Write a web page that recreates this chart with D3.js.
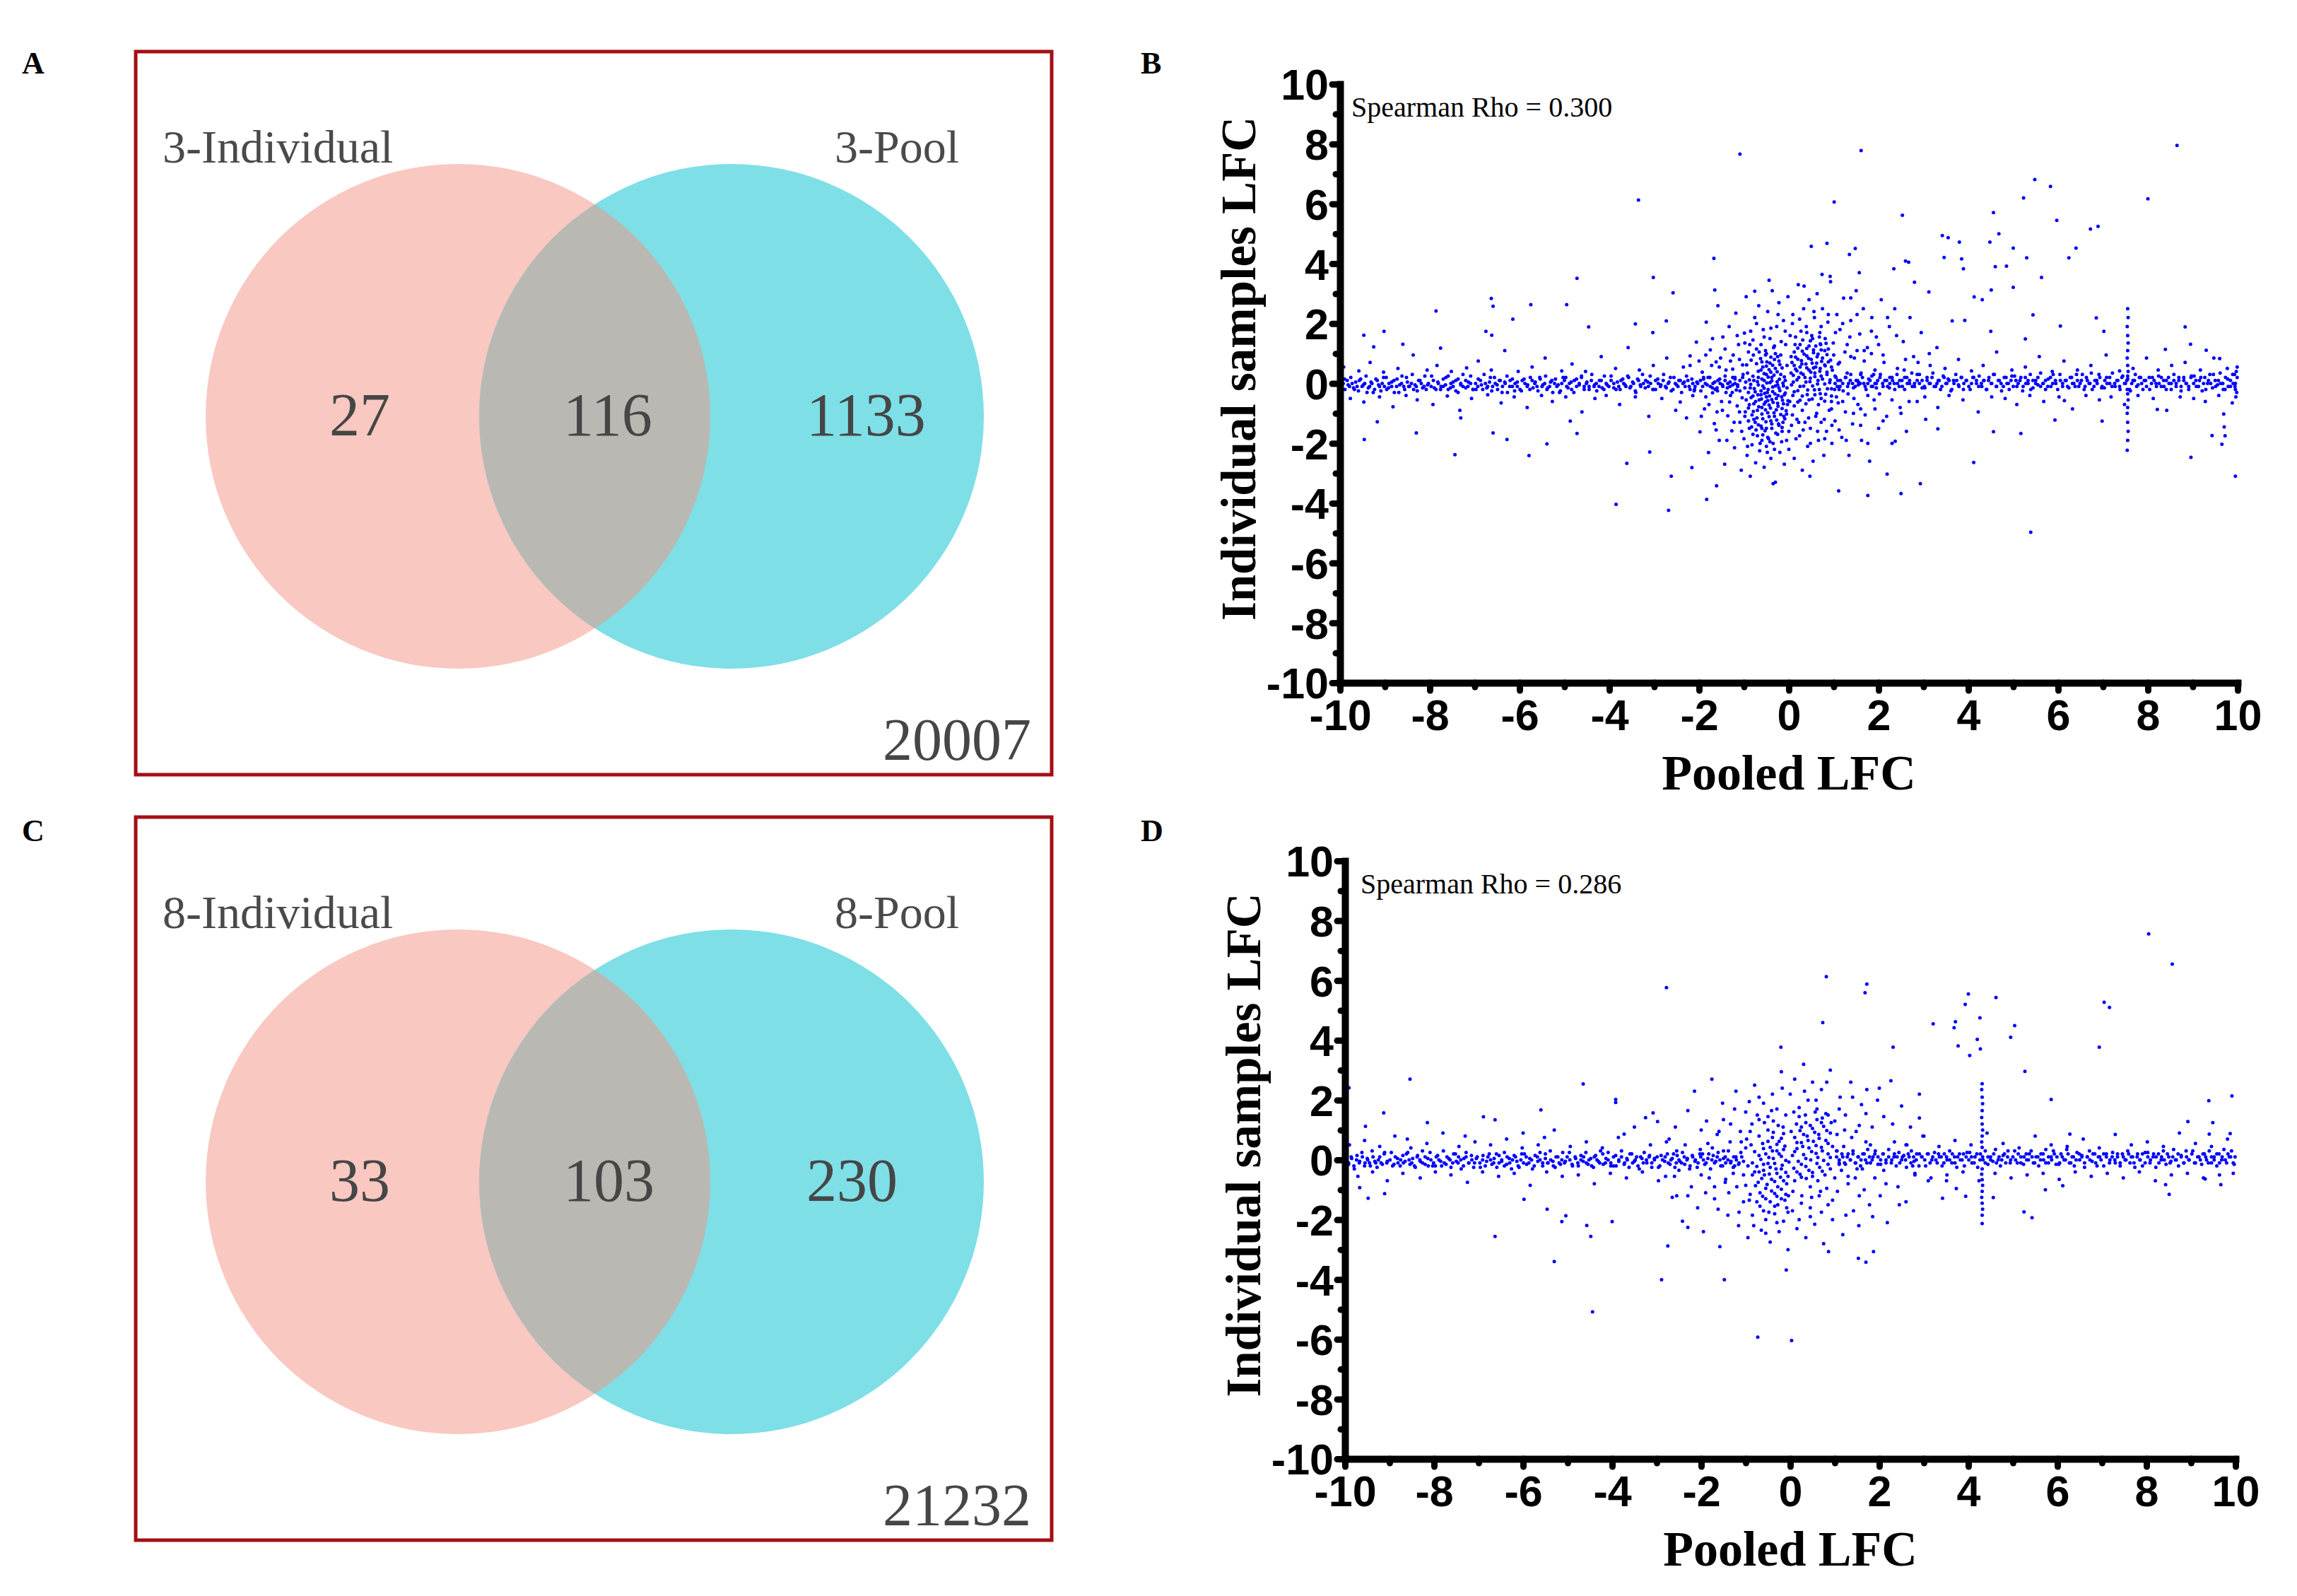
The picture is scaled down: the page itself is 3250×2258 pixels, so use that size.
<!DOCTYPE html>
<html>
<head>
<meta charset="utf-8">
<script src="https://cdn.jsdelivr.net/npm/d3@7"></script>
<style>
body { margin: 0; background: #fff; }
</style>
</head>
<body>
<svg id="fig" width="3250" height="2258"></svg>
<script>
// ---- venn panels (A, C)
let vennNamesA = ['3-Individual', '3-Pool'];
let vennCountsA = [27, 116, 1133];
let vennTotalA = 20007;
let vennNamesC = ['8-Individual', '8-Pool'];
let vennCountsC = [33, 103, 230];
let vennTotalC = 21232;

// ---- scatter panels (B, D): flat lists of (pooled LFC, individual LFC)
let rhoB = '0.300';
let rhoD = '0.286';
let majorTicks = [-10, -8, -6, -4, -2, 0, 2, 4, 6, 8, 10];
let minorTicks = [-9, -7, -5, -3, -1, 1, 3, 5, 7, 9];

let bandB = [-9.98,-.1,-9.93,0,-9.89,-.2,-9.84,.1,-9.79,-.1,-9.73,0,-9.68,-.2,-9.62,-.1,-9.57,.1,-9.51,-.1,-9.45,0,-9.4,-.3,-9.34,-.1,-9.29,0,-9.23,-.2,-9.17,.1,-9.12,-.1,-9.06,0,-9.01,-.1,
-8.96,-.2,-8.91,0,-8.85,-.1,-8.8,.1,-8.74,-.1,-8.69,-.3,-8.63,0,-8.58,-.1,-8.52,.2,-8.47,-.1,-8.41,0,-8.36,-.2,-8.3,-.1,-8.25,.1,-8.19,0,-8.13,-.1,-8.08,-.2,-8.03,0,
-7.97,-.1,-7.92,.1,-7.86,-.2,-7.81,0,-7.75,-.1,-7.7,-.1,-7.64,.2,-7.59,-.2,-7.53,0,-7.48,-.1,-7.42,.1,-7.37,-.3,-7.31,0,-7.26,-.1,-7.2,.1,-7.15,-.1,-7.09,0,-7.04,-.2,
-6.98,0,-6.93,-.1,-6.87,.1,-6.82,-.2,-6.76,0,-6.71,-.1,-6.65,.2,-6.6,-.1,-6.54,0,-6.49,-.2,-6.43,.1,-6.38,-.1,-6.32,0,-6.27,-.3,-6.21,.1,-6.16,-.1,-6.1,0,-6.05,-.1,
-5.99,-.2,-5.94,.1,-5.88,0,-5.83,-.1,-5.77,-.2,-5.72,.1,-5.66,0,-5.61,-.1,-5.55,.2,-5.5,-.1,-5.44,0,-5.39,-.2,-5.33,-.1,-5.28,.1,-5.22,0,-5.17,-.1,-5.11,-.3,-5.06,0,
-5.0,.1,-4.95,-.1,-4.89,0,-4.84,-.2,-4.78,.1,-4.73,-.1,-4.67,0,-4.62,.2,-4.56,-.1,-4.51,0,-4.45,-.2,-4.4,.1,-4.34,-.1,-4.29,0,-4.23,-.1,-4.18,.1,-4.12,-.2,-4.07,0,
-4.01,-.1,-3.96,.1,-3.9,0,-3.85,-.2,-3.79,-.1,-3.74,.1,-3.68,0,-3.63,-.1,-3.57,.2,-3.52,-.1,-3.46,0,-3.41,-.3,-3.35,.1,-3.3,-.1,-3.24,0,-3.19,.1,-3.13,-.1,-3.08,0,
-3.02,-.2,-2.97,.1,-2.91,0,-2.86,-.1,-2.8,.1,-2.75,-.1,-2.69,0,-2.64,.2,-2.58,-.2,-2.53,0,-2.47,-.1,-2.42,.1,-2.36,0,-2.31,-.1,-2.25,.1,-2.2,-.2,-2.14,0,-2.09,-.1,
-2.03,0,-1.97,.1,-1.92,-.1,-1.86,0,-1.8,.2,-1.75,-.1,-1.69,0,-1.64,-.2,-1.58,.1,-1.53,0,-1.47,-.1,-1.42,.1,-1.36,0,-1.31,-.1,-1.25,.2,-1.2,0,-1.14,-.1,-1.09,.1,
1.03,0,1.09,.1,1.14,-.1,1.2,0,1.26,.2,1.31,-.1,1.37,.1,1.42,0,1.48,-.1,1.53,.1,1.59,0,1.64,.2,1.7,-.1,1.76,0,1.81,.1,1.87,-.1,1.92,0,1.98,.1,
2.03,.2,2.09,0,2.14,.1,2.2,-.1,2.25,0,2.31,.1,2.36,-.2,2.42,0,2.47,.1,2.53,-.1,2.58,.2,2.64,0,2.69,.1,2.75,-.1,2.8,0,2.86,.3,2.91,0,2.97,.1,
3.02,-.1,3.08,.1,3.13,0,3.19,.2,3.24,-.1,3.3,0,3.35,.1,3.41,-.1,3.46,.2,3.52,0,3.57,.1,3.63,-.2,3.68,0,3.74,.1,3.79,-.1,3.85,.2,3.9,0,3.96,.1,
4.01,-.1,4.07,0,4.12,.2,4.18,.1,4.23,-.1,4.29,0,4.34,.1,4.4,-.2,4.45,.1,4.51,0,4.56,.3,4.62,-.1,4.67,.1,4.73,0,4.78,-.1,4.84,.2,4.89,0,4.95,.1,
5.0,-.1,5.06,.1,5.11,0,5.17,.2,5.22,-.1,5.28,0,5.33,.1,5.39,-.2,5.44,.1,5.5,0,5.55,.2,5.61,-.1,5.66,0,5.72,.1,5.77,-.1,5.83,.2,5.88,0,5.94,.1,
5.99,-.2,6.05,.1,6.1,0,6.16,.1,6.21,-.1,6.27,.2,6.32,0,6.38,-.1,6.43,.1,6.49,0,6.54,.3,6.6,-.1,6.65,.1,6.71,0,6.76,-.2,6.82,.1,6.87,0,6.93,.2,
6.98,-.1,7.04,.1,7.09,0,7.15,.2,7.2,-.1,7.26,0,7.31,.1,7.37,-.1,7.42,.2,7.48,0,7.53,.1,7.59,-.2,7.64,0,7.7,.1,7.75,-.1,7.81,.2,7.86,0,7.92,.1,
7.97,-.1,8.03,.2,8.08,0,8.14,.1,8.19,-.1,8.25,0,8.3,.2,8.36,-.1,8.41,.1,8.47,0,8.52,-.2,8.58,.1,8.63,0,8.69,.2,8.74,-.1,8.8,.1,8.85,0,8.91,-.1,
8.96,.2,9.02,0,9.07,.1,9.13,-.1,9.18,.2,9.24,0,9.29,-.2,9.35,.1,9.4,0,9.46,.3,9.51,-.1,9.57,.1,9.62,0,9.68,-.2,9.73,.2,9.79,-.1,9.84,.1,9.9,0,9.95,-.2,9.99,.2,
9.97,.4,9.98,-.3,9.93,.3,9.96,-.45,9.99,.55,9.94,-.1];

let band2B = [-9.96,-.25,-9.9,.15,-9.82,-.05,-9.76,.2,-9.7,-.15,-9.65,.05,-9.59,-.25,-9.54,.15,-9.48,-.05,-9.42,.25,-9.37,-.15,-9.31,.05,-9.26,-.3,-9.2,.15,-9.14,-.05,-9.09,-.25,-9.03,.2,
-8.97,.2,-8.92,-.15,-8.85,.05,-8.79,-.3,-8.73,.15,-8.67,-.05,-8.62,.25,-8.56,-.2,-8.5,.05,-8.45,-.1,-8.39,.3,-8.33,-.05,-8.28,-.25,-8.22,.1,-8.16,-.15,-8.11,.25,-8.05,-.05,
-7.96,.25,-7.9,-.15,-7.82,.05,-7.76,-.2,-7.7,.15,-7.65,-.05,-7.59,.25,-7.54,-.15,-7.48,.05,-7.42,-.25,-7.37,.15,-7.31,-.05,-7.26,.3,-7.2,-.15,-7.14,.05,-7.09,.25,-7.03,-.2,
-6.97,-.2,-6.92,.15,-6.85,-.05,-6.79,.3,-6.73,-.15,-6.67,.05,-6.62,-.25,-6.56,.2,-6.5,-.05,-6.45,.1,-6.39,-.3,-6.33,.05,-6.28,.25,-6.22,-.1,-6.16,.15,-6.11,-.25,-6.05,.05,
-5.96,-.25,-5.9,.15,-5.82,-.05,-5.76,.2,-5.7,-.15,-5.65,.05,-5.59,-.25,-5.54,.15,-5.48,-.05,-5.42,.25,-5.37,-.15,-5.31,.05,-5.26,-.3,-5.2,.15,-5.14,-.05,-5.09,-.25,-5.03,.2,
-4.97,.2,-4.92,-.15,-4.85,.05,-4.79,-.3,-4.73,.15,-4.67,-.05,-4.62,.25,-4.56,-.2,-4.5,.05,-4.45,-.1,-4.39,.3,-4.33,-.05,-4.28,-.25,-4.22,.1,-4.16,-.15,-4.11,.25,-4.05,-.05,
-3.96,.25,-3.9,-.15,-3.82,.05,-3.76,-.2,-3.7,.15,-3.65,-.05,-3.59,.25,-3.54,-.15,-3.48,.05,-3.42,-.25,-3.37,.15,-3.31,-.05,-3.26,.3,-3.2,-.15,-3.14,.05,-3.09,.25,-3.03,-.2,
-2.97,-.2,-2.92,.15,-2.85,-.05,-2.79,.3,-2.73,-.15,-2.67,.05,-2.62,-.25,-2.56,.2,-2.5,-.05,-2.45,.1,-2.39,-.3,-2.33,.05,-2.28,.25,-2.22,-.1,-2.16,.15,-2.11,-.25,-2.05,.05,
-1.96,-.25,-1.9,.15,-1.82,-.05,-1.76,.2,-1.7,-.15,-1.65,.05,-1.59,-.25,-1.54,.15,-1.48,-.05,-1.42,.25,-1.37,-.15,-1.31,.05,-1.26,-.3,-1.2,.15,-1.14,-.05,-1.09,-.25,-1.03,.2,
1.03,.25,1.08,-.1,1.15,.1,1.21,-.25,1.27,.2,1.33,0,1.38,.3,1.44,-.15,1.5,.1,1.55,-.05,1.61,.35,1.67,0,1.72,-.2,1.78,.15,1.84,-.1,1.89,.3,1.95,0,
2.04,.3,2.1,-.1,2.18,.1,2.24,-.15,2.3,.2,2.35,0,2.41,.3,2.46,-.1,2.52,.1,2.58,-.2,2.63,.2,2.69,0,2.74,.35,2.8,-.1,2.86,.1,2.91,.3,2.97,-.15,
3.03,-.15,3.08,.2,3.15,0,3.21,.35,3.27,-.1,3.33,.1,3.38,-.2,3.44,.25,3.5,0,3.55,.15,3.61,-.25,3.67,.1,3.72,.3,3.78,-.05,3.84,.2,3.89,-.2,3.95,.1,
4.04,-.2,4.1,.2,4.18,0,4.24,.25,4.3,-.1,4.35,.1,4.41,-.2,4.46,.2,4.52,0,4.58,.3,4.63,-.1,4.69,.1,4.74,-.25,4.8,.2,4.86,0,4.91,-.2,4.97,.25,
5.03,.25,5.08,-.1,5.15,.1,5.21,-.25,5.27,.2,5.33,0,5.38,.3,5.44,-.15,5.5,.1,5.55,-.05,5.61,.35,5.67,0,5.72,-.2,5.78,.15,5.84,-.1,5.89,.3,5.95,0,
6.04,.3,6.1,-.1,6.18,.1,6.24,-.15,6.3,.2,6.35,0,6.41,.3,6.46,-.1,6.52,.1,6.58,-.2,6.63,.2,6.69,0,6.74,.35,6.8,-.1,6.86,.1,6.91,.3,6.97,-.15,
7.03,-.15,7.08,.2,7.15,0,7.21,.35,7.27,-.1,7.33,.1,7.38,-.2,7.44,.25,7.5,0,7.55,.15,7.61,-.25,7.67,.1,7.72,.3,7.78,-.05,7.84,.2,7.89,-.2,7.95,.1,
8.04,-.2,8.1,.2,8.18,0,8.24,.25,8.3,-.1,8.35,.1,8.41,-.2,8.46,.2,8.52,0,8.58,.3,8.63,-.1,8.69,.1,8.74,-.25,8.8,.2,8.86,0,8.91,-.2,8.97,.25,
9.03,.25,9.08,-.1,9.15,.1,9.21,-.25,9.27,.2,9.33,0,9.38,.3,9.44,-.15,9.5,.1,9.55,-.05,9.61,.35,9.67,0,9.72,-.2,9.78,.15,9.84,-.1,9.89,.3,9.95,0];

let spreadB = [-9.92,.55,-9.77,-.5,-9.58,.42,-9.47,-.62,-9.33,.7,-9.12,-.45,-9.03,.38,-8.82,-.78,-8.71,.5,-8.53,-.4,-8.37,.95,-8.28,-.55,-8.06,.45,-7.93,-.7,-7.84,.6,-7.61,-.42,-7.52,.4,-7.33,-.9,-7.18,.52,-7.07,-.5,-6.92,.75,-6.71,-.38,-6.63,.45,-6.41,-.65,-6.33,1.1,-6.12,-.45,-6.03,.4,-5.83,-.8,-5.72,.55,-5.51,-.4,-5.43,.85,-5.27,-.6,-5.06,.42,-4.97,-.45,-4.83,.65,-4.61,-.95,-4.53,.4,-4.32,-.5,-4.18,.9,-4.07,-.4,-3.86,.5,-3.77,-.7,-3.58,1.2,-3.42,-.45,-3.33,.45,-3.12,-1.1,-3.02,.6,-2.83,-.5,-2.72,.85,-2.52,-.9,
2.57,.45,2.68,-.6,2.88,.7,3.03,-.45,3.13,1.0,3.32,-.8,3.48,.5,3.57,-.4,3.78,.8,3.88,-.55,4.07,.42,4.22,-.95,4.33,.6,4.52,-.45,4.63,1.05,4.82,-.5,4.97,.45,5.08,-.7,5.27,.55,5.37,-.4,5.58,.9,5.68,-.6,5.87,.4,6.02,-.45,6.13,.75,6.32,-.85,6.43,.45,6.62,-.4,6.73,.6,6.92,-.55,7.07,.95,7.18,-.45,7.37,.42,7.48,-.7,7.67,.5,7.78,-.4,7.97,.85,8.12,-.5,8.23,.45,8.42,-.9,8.53,.6,8.72,-.45,8.83,.7,9.02,-.5,9.17,.45,9.28,-.6,9.47,.85,9.58,-.4,9.77,.5,9.88,-.65];

let lobesB = [-0.62,-1.42,-0.38,-1.35,-0.15,-1.47,-0.51,-1.28,-0.27,-1.22,-0.71,-1.15,-0.44,-1.11,-0.09,-1.18,-0.6,-1.02,-0.33,-0.98,-0.18,-1.04,-0.79,-0.93,-0.52,-0.88,-0.06,-0.91,-0.41,-0.82,-0.67,-0.78,-0.24,-0.76,-0.88,-0.71,-0.55,-0.69,-0.12,-0.68,-0.35,-0.63,-0.74,-0.6,-0.47,-0.57,-0.02,-0.58,-0.61,-0.52,-0.28,-0.5,-0.84,-0.47,-0.16,-0.45,-0.43,-0.42,-0.69,-0.38,-0.54,-0.33,-0.31,-0.35,-0.08,-0.32,-0.9,-0.3,-0.62,-0.25,-0.2,-0.24,-0.46,-0.2,-0.77,-0.17,-0.36,-0.12,-0.04,-0.15,-0.58,-0.08,-0.25,-0.05,-0.85,-0.03,-0.49,0.02,-0.13,0.01,-0.7,0.06,-0.38,0.09,-0.6,0.15,-0.21,0.14,-0.46,0.21,-0.8,0.24,-0.1,0.22,-0.33,0.28,-0.55,0.33,-0.68,0.41,-0.26,0.39,-0.44,0.46,-0.15,0.52,-0.58,0.55,-0.36,0.61,-0.72,0.66,-0.49,0.72,-0.22,0.75,-0.63,0.83,-0.4,0.88,-0.3,1.0,-0.53,-1.58,-0.29,-1.66,-0.47,-1.8,-0.75,-1.3,-0.95,-0.55,-0.98,-0.15,-0.92,0.35,
0.12,-0.75,0.38,-0.68,0.66,-0.71,0.25,-0.56,0.52,-0.52,0.8,-0.59,0.09,-0.4,0.41,-0.37,0.7,-0.34,0.95,-0.42,0.2,-0.24,0.57,-0.21,0.86,-0.18,0.33,-0.09,0.06,-0.05,0.64,-0.02,0.47,0.06,0.91,0.03,0.18,0.12,0.75,0.15,0.36,0.2,0.58,0.23,0.1,0.27,0.85,0.3,0.27,0.35,0.49,0.38,0.69,0.41,0.97,0.44,0.15,0.48,0.4,0.52,0.6,0.55,0.81,0.59,0.29,0.65,0.52,0.68,0.07,0.7,0.73,0.74,0.93,0.78,0.2,0.81,0.44,0.84,0.63,0.89,0.34,0.98,0.85,0.96,0.55,1.03,0.12,1.05,0.72,1.12,0.4,1.17,0.6,1.25,0.25,1.3,0.83,1.34,0.48,1.42,1.05,0.2,1.1,0.65,1.02,-0.2,0.68,1.55,0.3,-0.9];

let lobes2B = [-0.5,-1.5,-0.22,-1.4,-0.68,-1.38,-0.4,-1.25,-0.13,-1.3,-0.58,-1.18,-0.32,-1.1,-0.82,-1.05,-0.47,-0.98,-0.05,-1.02,-0.7,-0.9,-0.28,-0.88,-0.6,-0.8,-0.15,-0.84,-0.44,-0.72,-0.9,-0.82,-0.78,-0.68,-0.25,-0.66,-0.52,-0.62,-0.03,-0.7,-0.66,-0.55,-0.38,-0.54,-0.14,-0.56,-0.8,-0.42,-0.5,-0.45,-0.24,-0.4,-0.62,-0.38,-0.36,-0.27,-0.1,-0.38,-0.75,-0.28,-0.48,-0.3,-0.22,-0.15,-0.86,-0.15,-0.55,-0.16,-0.3,-0.08,-0.68,-0.05,-0.12,-0.08,-0.42,0.03,-0.78,0.1,-0.26,0.06,-0.55,0.1,-0.08,0.1,-0.38,0.2,-0.68,0.2,-0.18,0.3,-0.5,0.3,-0.88,0.12,-0.4,0.38,-0.62,0.45,-0.3,0.5,-0.5,0.58,-0.2,0.63,-0.42,0.68,-0.6,0.72,-0.32,0.8,-0.52,0.95,-0.25,0.9,-0.38,-1.5,-0.6,-1.5,
0.2,-0.62,0.45,-0.55,0.72,-0.5,0.95,-0.6,0.3,-0.42,0.58,-0.38,0.82,-0.36,0.12,-0.28,0.42,-0.22,0.68,-0.2,0.95,-0.18,0.25,-0.1,0.53,-0.08,0.8,-0.02,0.1,0.05,0.38,0.05,0.65,0.1,0.92,0.12,0.22,0.2,0.48,0.18,0.72,0.25,0.05,0.35,0.32,0.3,0.58,0.35,0.85,0.38,0.18,0.42,0.45,0.45,0.7,0.5,0.95,0.55,0.25,0.55,0.55,0.52,0.8,0.62,0.12,0.6,0.38,0.65,0.62,0.68,0.88,0.72,0.28,0.76,0.5,0.8,0.75,0.85,0.15,0.88,0.4,0.92,0.65,0.98,0.3,1.08,0.55,1.12,0.8,1.1,0.45,1.25,0.7,1.32,0.2,1.18];

let cloudB = [-2.42,-0.62,-2.35,0.55,-2.28,-1.15,-2.2,0.92,-2.14,-0.41,-2.06,1.38,-1.98,-1.62,-1.93,0.38,-1.88,-0.85,-1.84,2.05,-1.79,-2.31,-1.75,1.12,-1.7,-0.31,-1.66,-1.34,-1.62,0.72,-1.58,2.6,-1.55,-1.9,-1.5,-0.6,-1.47,1.55,-1.43,-2.7,-1.4,0.45,-1.36,-1.08,-1.33,1.9,-1.3,-0.4,-1.27,-1.58,-1.24,0.95,-1.21,-2.15,-1.18,2.35,-1.15,-0.75,-1.12,1.3,-1.09,-1.3,-1.06,-2.9,-1.03,0.62,-1.0,-1.85,-0.99,1.68,-0.97,-0.95,-0.95,2.9,-0.93,-2.4,-0.9,1.05,-0.88,-1.5,-0.86,-3.1,-0.84,0.78,-0.82,-2.05,-0.8,1.45,-0.78,-1.2,-0.76,2.2,-0.74,-2.65,-0.72,1.15,-0.7,-1.75,-0.67,2.6,-0.65,-2.25,-0.62,1.3,-0.6,-1.9,-0.57,1.8,-0.55,-2.8,-0.52,1.1,-0.5,-2.1,-0.47,2.4,-0.45,-1.85,-0.42,1.5,-0.4,-2.5,-0.37,3.1,-0.35,-2.0,-0.32,1.25,-0.3,-3.3,-0.27,1.9,-0.25,-1.7,-0.22,2.7,-0.2,-2.3,-0.17,1.4,-0.15,-1.6,-0.12,2.1,-0.1,-2.7,-0.07,1.3,-0.05,-1.9,-0.02,2.9,0.0,-2.2,0.03,1.6,0.06,-1.4,0.09,2.3,0.12,-2.5,0.15,1.55,0.18,-1.2,0.21,3.3,0.24,-1.75,0.27,1.75,0.3,-2.9,0.33,2.5,0.36,-1.3,0.39,1.9,0.42,-2.1,0.45,2.8,0.48,-1.5,0.51,1.6,0.54,-2.6,0.57,2.2,0.6,-1.1,0.63,3.0,0.66,-1.9,0.69,1.7,0.72,-1.3,0.75,2.5,0.78,-2.4,0.81,1.5,0.84,-1.6,0.87,2.05,0.9,-0.9,0.93,3.4,0.96,-2.0,0.99,1.35,1.03,-1.25,1.07,2.3,1.1,-0.65,1.14,1.8,1.18,-1.8,1.22,2.85,1.26,-0.95,1.3,1.3,1.34,-2.4,1.38,2.1,1.42,-1.35,1.46,0.85,1.5,3.1,1.54,-0.7,1.58,1.65,1.62,-1.9,1.66,2.5,1.7,-1.05,1.75,1.2,1.8,-2.6,1.85,2.2,1.9,-0.55,1.95,1.55,2.0,-1.5,2.06,2.8,2.12,0.7,2.18,-1.1,2.24,1.9,2.3,-2.0,2.36,2.5,2.42,0.5,2.48,-0.8,2.55,1.4,2.62,-1.6,2.7,2.2,2.78,0.9,2.86,-0.6,2.95,1.7,3.05,-1.2,3.15,0.6,3.3,1.2,-1.6,-0.15,-1.2,0.2,-1.4,-0.3,1.3,0.35,1.6,0.3,1.85,0.25,-0.96,0.05,1.12,-0.2,
-1.32,-0.62,-1.25,0.48,-1.17,-0.22,-1.1,0.8,-1.04,-0.48,-1.02,0.3,-0.98,-1.1,-0.94,0.62,-0.9,-1.25,-0.87,1.3,-0.83,-1.45,-0.79,0.95,-0.73,-1.55,-0.66,1.05,-0.58,-1.72,-0.5,1.0,-0.42,-1.95,-0.34,1.2,-0.23,-1.35,-0.18,0.95,-0.11,-1.1,-0.04,0.6,0.02,-0.6,0.05,0.9,0.08,-1.05,0.14,1.3,0.22,-1.3,0.31,1.45,0.44,-1.15,0.53,1.5,0.62,-1.0,0.71,1.3,0.79,-1.2,0.88,1.15,0.95,-0.85,1.0,0.95,1.06,-0.45,1.13,0.7,1.2,-0.6,1.25,1.05,1.32,-0.35,1.38,0.9,1.45,-0.5,1.52,1.1,1.6,-0.85,1.68,0.75,1.76,-0.4,1.84,1.0,1.92,0.45,2.02,-0.35,2.1,0.95,-1.52,0.85,-1.6,-0.95,-1.72,0.6,-1.85,-0.45,-2.0,0.75,
-1.95,-1.1,-1.85,0.95,-1.78,-0.7,-1.7,1.5,-1.62,-1.55,-1.55,0.55,-1.48,-0.9,-1.42,1.15,-1.38,-1.9,-1.3,0.75,-1.22,-1.3,-1.15,1.6,-1.1,-0.95,-1.05,-1.6,-0.98,1.35,-0.92,-2.1,-0.85,1.75,-0.8,-1.7,-0.72,2.0,-0.64,-2.0,-0.55,1.55,-0.48,-2.3,-0.4,1.85,-0.32,-2.2,-0.24,2.3,-0.16,-1.95,-0.08,1.75,0.0,-1.6,0.08,2.0,0.16,-1.85,0.24,2.15,0.32,-1.55,0.4,1.7,0.48,-2.0,0.56,2.4,0.64,-1.6,0.72,1.9,0.8,-1.85,0.88,2.3,0.96,-1.4,1.04,1.7,1.12,-1.55,1.2,2.0,1.28,-1.9,1.36,1.55,1.44,-1.0,1.52,2.3,1.6,-1.4,1.68,1.1,1.76,-2.0,1.84,1.75,1.92,-0.85,2.0,1.3,2.1,-1.25,2.2,2.2,2.3,-0.55,2.4,1.6,2.5,-1.0,2.6,0.8,-2.1,-0.2,-2.2,0.6,-1.9,0.2,-1.25,-0.05,1.55,0.05,1.95,-0.15,2.25,0.2];

let outliersB = [8.65,7.95,1.61,7.78,-1.09,7.66,5.48,6.81,5.83,6.58,-3.35,6.13,1.01,6.06,8.0,6.17,2.53,5.62,5.23,6.2,4.56,5.71,5.97,5.45,6.72,5.16,6.89,5.25,4.68,5.0,3.42,4.94,3.55,4.87,3.8,4.72,4.48,4.72,5.0,4.52,6.4,4.52,6.24,4.2,5.3,4.2,4.85,3.92,4.6,3.9,3.85,4.16,3.46,4.21,3.89,3.83,2.6,4.09,2.67,4.05,1.48,4.51,1.35,4.31,0.5,4.58,0.85,4.68,-1.67,4.18,-3.02,3.54,-4.72,3.51,5.63,3.54,5.0,3.21,4.51,3.12,4.13,2.89,4.31,2.8,5.44,2.29,6.85,2.19,8.83,1.89,6.05,1.92,4.5,1.74,5.27,1.49,7.02,1.74,8.95,1.31,8.39,1.14,9.3,1.11,9.6,0.83,
-7.86,2.42,-6.63,2.84,-6.59,2.58,-5.75,2.63,-4.95,2.63,-6.15,2.15,-6.75,1.74,-6.62,1.61,-9.47,1.61,-9.02,1.74,-8.6,1.31,-9.25,1.22,-7.76,1.18,-4.46,1.89,-3.42,1.99,-3.03,1.7,-2.73,2.09,-2.58,3.03,-1.65,3.12,-0.76,3.08,-0.44,3.45,0.34,3.25,0.74,3.64,0.92,3.58,1.57,3.7,1.38,2.86,2.34,3.83,2.8,3.38,3.12,3.06,3.64,2.09,3.92,2.11,
-9.46,-1.87,-9.17,-1.28,-8.3,-1.65,-7.44,-2.38,-7.31,-1.15,-6.59,-1.65,-6.28,-1.87,-5.79,-2.41,-5.39,-2.02,-4.87,-1.26,-4.72,-1.67,-3.85,-4.04,-2.68,-4.24,-3.61,-2.67,-3.1,-2.29,-2.62,-3.1,-2.16,-2.81,-1.83,-3.87,-1.61,-3.42,-0.35,-3.35,0.47,-3.1,1.11,-3.59,1.76,-3.74,2.5,-3.68,2.93,-3.35,2.19,-3.03,2.37,-1.93,3.32,-1.52,4.12,-2.64,4.56,-1.61,5.17,-1.67,5.39,-4.97,5.93,-1.22,6.98,-1.26,8.21,-0.87,8.96,-2.47,9.43,-1.74,9.65,-2.03,9.69,-1.02,9.95,-3.1,6.14,-0.57,9.7,-1.45,9.72,-1.75];

let streakB = [7.55,2.5,7.56,2.2,7.54,1.9,7.55,1.6,7.56,1.35,7.55,1.1,7.54,0.85,7.55,0.6,7.56,0.4,7.55,0.25,7.54,-0.2,7.55,-0.35,7.56,-0.55,7.55,-0.8,7.54,-1.0,7.55,-1.3,7.56,-1.6,7.55,-1.9,7.54,-2.23];

let bandD = [-9.97,0,-9.92,-.1,-9.86,.1,-9.8,-.2,-9.74,0,-9.68,-.1,-9.61,.1,-9.55,-.1,-9.49,0,-9.43,-.2,-9.37,.1,-9.31,-.1,-9.25,0,-9.19,-.1,-9.12,.2,-9.06,-.1,
-8.99,0,-8.93,-.2,-8.87,.1,-8.81,-.1,-8.75,0,-8.69,-.1,-8.62,.2,-8.56,0,-8.5,-.1,-8.44,-.2,-8.38,.1,-8.32,0,-8.26,-.1,-8.2,.1,-8.13,-.2,-8.07,0,
-8.01,-.1,-7.95,.1,-7.89,0,-7.83,-.2,-7.77,-.1,-7.71,.1,-7.64,0,-7.58,-.1,-7.52,.2,-7.46,-.1,-7.4,0,-7.34,-.2,-7.28,.1,-7.22,-.1,-7.15,0,-7.09,-.1,
-7.03,.1,-6.97,-.1,-6.91,0,-6.85,-.2,-6.79,.1,-6.73,0,-6.66,-.1,-6.6,.2,-6.54,-.1,-6.48,0,-6.42,-.2,-6.36,.1,-6.3,-.1,-6.24,0,-6.17,.1,-6.11,-.2,
-6.05,0,-5.99,-.1,-5.93,.1,-5.87,-.1,-5.81,0,-5.75,-.2,-5.68,.1,-5.62,0,-5.56,-.1,-5.5,.2,-5.44,-.1,-5.38,0,-5.32,-.2,-5.26,.1,-5.19,-.1,-5.13,0,
-5.07,-.1,-5.01,.1,-4.95,0,-4.89,-.2,-4.83,.1,-4.77,-.1,-4.7,0,-4.64,.1,-4.58,-.1,-4.52,0,-4.46,-.2,-4.4,.1,-4.34,0,-4.28,-.1,-4.21,.2,-4.15,-.1,
-4.09,0,-4.03,-.1,-3.97,.1,-3.91,-.2,-3.85,0,-3.79,.1,-3.72,-.1,-3.66,0,-3.6,.2,-3.54,-.1,-3.48,0,-3.42,-.2,-3.36,.1,-3.3,-.1,-3.23,0,-3.17,.1,
-3.11,-.1,-3.05,0,-2.99,.1,-2.93,-.2,-2.87,0,-2.81,.1,-2.74,-.1,-2.68,0,-2.62,.2,-2.56,-.1,-2.5,0,-2.44,-.1,-2.38,.1,-2.32,0,-2.25,-.2,-2.19,.1,
-2.13,0,-2.07,-.1,-2.01,.1,-1.95,0,-1.89,-.1,-1.83,.2,-1.76,0,-1.7,-.1,-1.64,.1,-1.58,0,-1.52,-.2,-1.46,.1,-1.4,0,-1.34,-.1,-1.27,.1,-1.21,0,-1.15,-.1,-1.09,.1,
1.04,.1,1.1,0,1.16,.2,1.22,-.1,1.28,.1,1.35,0,1.41,.2,1.47,-.1,1.53,.1,1.59,0,1.66,.2,1.72,-.1,1.78,.1,1.84,0,1.9,.2,1.97,.1,
2.03,0,2.09,.2,2.15,-.1,2.21,.1,2.28,0,2.34,.2,2.4,.1,2.46,-.1,2.52,.1,2.59,0,2.65,.2,2.71,-.1,2.77,.1,2.83,0,2.9,.2,2.96,.1,
3.02,0,3.08,.2,3.14,-.1,3.2,.1,3.27,0,3.33,.2,3.39,.1,3.45,-.1,3.51,.1,3.58,0,3.64,.2,3.7,-.1,3.76,.1,3.82,0,3.89,.2,3.95,.1,
4.01,0,4.07,.1,4.13,-.1,4.19,.2,4.26,0,4.32,.1,4.38,-.1,4.44,.1,4.5,0,4.57,.2,4.63,-.1,4.69,.1,4.75,0,4.81,.2,4.88,.1,4.94,-.1,
5.0,.1,5.06,0,5.12,.2,5.18,-.1,5.25,.1,5.31,0,5.37,.2,5.43,.1,5.49,-.1,5.56,.1,5.62,0,5.68,.2,5.74,-.1,5.8,.1,5.87,0,5.93,.2,
5.99,.1,6.05,-.1,6.11,.1,6.18,0,6.24,.2,6.3,-.1,6.36,.1,6.42,0,6.49,.2,6.55,.1,6.61,-.1,6.67,.1,6.73,0,6.8,.2,6.86,-.1,6.92,.1,
6.98,0,7.04,.2,7.1,.1,7.17,-.1,7.23,.1,7.29,0,7.35,.2,7.41,-.1,7.48,.1,7.54,0,7.6,.2,7.66,.1,7.72,-.1,7.79,.1,7.85,0,7.91,.2,
7.97,-.1,8.03,.1,8.09,0,8.16,.2,8.22,.1,8.28,-.1,8.34,.1,8.4,0,8.47,.2,8.53,-.1,8.59,.1,8.65,0,8.71,.2,8.78,.1,8.84,-.1,8.9,.1,
8.96,0,9.02,.2,9.08,-.1,9.15,.1,9.21,0,9.27,.2,9.33,.1,9.39,-.1,9.46,.1,9.52,0,9.58,.2,9.64,-.1,9.7,.1,9.77,0,9.83,.2,9.89,.1,9.95,-.1,9.99,.1];

let band2D = [-9.97,.2,-9.92,-.15,-9.85,.05,-9.79,-.3,-9.73,.15,-9.67,-.05,-9.62,.25,-9.56,-.2,-9.5,.05,-9.45,-.1,-9.39,.3,-9.33,-.05,-9.28,-.25,-9.22,.1,-9.16,-.15,-9.11,.25,-9.05,-.05,
-8.96,.25,-8.9,-.15,-8.82,.05,-8.76,-.2,-8.7,.15,-8.65,-.05,-8.59,.25,-8.54,-.15,-8.48,.05,-8.42,-.25,-8.37,.15,-8.31,-.05,-8.26,.3,-8.2,-.15,-8.14,.05,-8.09,.25,-8.03,-.2,
-7.97,-.2,-7.92,.15,-7.85,-.05,-7.79,.3,-7.73,-.15,-7.67,.05,-7.62,-.25,-7.56,.2,-7.5,-.05,-7.45,.1,-7.39,-.3,-7.33,.05,-7.28,.25,-7.22,-.1,-7.16,.15,-7.11,-.25,-7.05,.05,
-6.96,-.25,-6.9,.15,-6.82,-.05,-6.76,.2,-6.7,-.15,-6.65,.05,-6.59,-.25,-6.54,.15,-6.48,-.05,-6.42,.25,-6.37,-.15,-6.31,.05,-6.26,-.3,-6.2,.15,-6.14,-.05,-6.09,-.25,-6.03,.2,
-5.97,.2,-5.92,-.15,-5.85,.05,-5.79,-.3,-5.73,.15,-5.67,-.05,-5.62,.25,-5.56,-.2,-5.5,.05,-5.45,-.1,-5.39,.3,-5.33,-.05,-5.28,-.25,-5.22,.1,-5.16,-.15,-5.11,.25,-5.05,-.05,
-4.96,.25,-4.9,-.15,-4.82,.05,-4.76,-.2,-4.7,.15,-4.65,-.05,-4.59,.25,-4.54,-.15,-4.48,.05,-4.42,-.25,-4.37,.15,-4.31,-.05,-4.26,.3,-4.2,-.15,-4.14,.05,-4.09,.25,-4.03,-.2,
-3.97,-.2,-3.92,.15,-3.85,-.05,-3.79,.3,-3.73,-.15,-3.67,.05,-3.62,-.25,-3.56,.2,-3.5,-.05,-3.45,.1,-3.39,-.3,-3.33,.05,-3.28,.25,-3.22,-.1,-3.16,.15,-3.11,-.25,-3.05,.05,
-2.96,-.25,-2.9,.15,-2.82,-.05,-2.76,.2,-2.7,-.15,-2.65,.05,-2.59,-.25,-2.54,.15,-2.48,-.05,-2.42,.25,-2.37,-.15,-2.31,.05,-2.26,-.3,-2.2,.15,-2.14,-.05,-2.09,-.25,-2.03,.2,
-1.97,.2,-1.92,-.15,-1.85,.05,-1.79,-.3,-1.73,.15,-1.67,-.05,-1.62,.25,-1.56,-.2,-1.5,.05,-1.45,-.1,-1.39,.3,-1.33,-.05,-1.28,-.25,-1.22,.1,-1.16,-.15,-1.11,.25,-1.05,-.05,
1.04,.3,1.1,-.1,1.18,.1,1.24,-.15,1.3,.2,1.35,0,1.41,.3,1.46,-.1,1.52,.1,1.58,-.2,1.63,.2,1.69,0,1.74,.35,1.8,-.1,1.86,.1,1.91,.3,1.97,-.15,
2.03,-.15,2.08,.2,2.15,0,2.21,.35,2.27,-.1,2.33,.1,2.38,-.2,2.44,.25,2.5,0,2.55,.15,2.61,-.25,2.67,.1,2.72,.3,2.78,-.05,2.84,.2,2.89,-.2,2.95,.1,
3.04,-.2,3.1,.2,3.18,0,3.24,.25,3.3,-.1,3.35,.1,3.41,-.2,3.46,.2,3.52,0,3.58,.3,3.63,-.1,3.69,.1,3.74,-.25,3.8,.2,3.86,0,3.91,-.2,3.97,.25,
4.03,.25,4.08,-.1,4.15,.1,4.21,-.25,4.27,.2,4.33,0,4.38,.3,4.44,-.15,4.5,.1,4.55,-.05,4.61,.35,4.67,0,4.72,-.2,4.78,.15,4.84,-.1,4.89,.3,4.95,0,
5.04,.3,5.1,-.1,5.18,.1,5.24,-.15,5.3,.2,5.35,0,5.41,.3,5.46,-.1,5.52,.1,5.58,-.2,5.63,.2,5.69,0,5.74,.35,5.8,-.1,5.86,.1,5.91,.3,5.97,-.15,
6.03,-.15,6.08,.2,6.15,0,6.21,.35,6.27,-.1,6.33,.1,6.38,-.2,6.44,.25,6.5,0,6.55,.15,6.61,-.25,6.67,.1,6.72,.3,6.78,-.05,6.84,.2,6.89,-.2,6.95,.1,
7.04,-.2,7.1,.2,7.18,0,7.24,.25,7.3,-.1,7.35,.1,7.41,-.2,7.46,.2,7.52,0,7.58,.3,7.63,-.1,7.69,.1,7.74,-.25,7.8,.2,7.86,0,7.91,-.2,7.97,.25,
8.03,.25,8.08,-.1,8.15,.1,8.21,-.25,8.27,.2,8.33,0,8.38,.3,8.44,-.15,8.5,.1,8.55,-.05,8.61,.35,8.67,0,8.72,-.2,8.78,.15,8.84,-.1,8.89,.3,8.95,0,
9.04,.3,9.1,-.1,9.18,.1,9.24,-.15,9.3,.2,9.35,0,9.41,.3,9.46,-.1,9.52,.1,9.58,-.2,9.63,.2,9.69,0,9.74,.35,9.8,-.1,9.86,.1,9.91,.3,9.97,-.15];

let spreadD = [-9.9,.5,-9.71,-.55,-9.56,.65,-9.38,-.4,-9.22,.45,-9.05,-.7,-8.88,.8,-8.7,-.45,-8.52,.4,-8.31,-.6,-8.16,.55,-7.97,-.4,-7.8,.9,-7.62,-.5,-7.44,.45,-7.25,-.75,-7.08,.6,-6.91,-.4,-6.73,.5,-6.55,-.55,-6.37,.7,-6.2,-.45,-6.02,.4,-5.84,-.85,-5.66,.5,-5.47,-.4,-5.3,1.0,-5.12,-.55,-4.94,.45,-4.76,-.5,-4.58,.6,-4.4,-.8,-4.22,.4,-4.04,-.45,-3.86,.75,-3.68,-.6,-3.5,1.1,-3.32,-.4,-3.14,.5,-2.96,-.7,-2.78,.6,-2.6,-.55,
2.62,.5,2.8,-.45,2.98,.8,3.16,-.6,3.34,.45,3.52,-.5,3.7,.65,3.88,-.4,4.06,.5,4.24,-.7,4.42,.9,4.6,-.45,4.78,.55,4.96,-.6,5.14,.4,5.32,-.5,5.5,.8,5.68,-.45,5.86,.5,6.04,-.65,6.22,.45,6.4,-.4,6.58,.7,6.76,-.55,6.94,.4,7.12,-.45,7.3,.85,7.48,-.6,7.66,.5,7.84,-.4,8.02,.6,8.2,-.7,8.38,.45,8.56,-.5,8.74,.9,8.92,-.45,9.1,.55,9.28,-.6,9.46,.45,9.64,-.5,9.82,.7,9.95,-.45];

let lobesD = [-0.55,-1.3,-0.3,-1.22,-0.12,-1.35,-0.68,-1.1,-0.42,-1.04,-0.2,-0.98,-0.78,-0.86,-0.52,-0.82,-0.08,-0.8,-0.35,-0.72,-0.64,-0.62,-0.22,-0.58,-0.85,-0.5,-0.47,-0.47,-0.1,-0.42,-0.6,-0.35,-0.32,-0.3,-0.75,-0.22,-0.18,-0.18,-0.5,-0.12,-0.03,-0.07,-0.66,0.02,-0.38,0.05,-0.2,0.12,-0.55,0.2,-0.8,0.28,-0.3,0.3,-0.45,0.42,-0.12,0.46,-0.62,0.55,-0.25,0.62,-0.4,0.75,-0.7,0.8,-0.15,0.88,-0.5,1.0,-0.35,-1.55,-0.6,-1.7,-0.9,-1.15,-0.95,-0.2,-0.88,0.5,-0.27,1.15,-0.08,-1.6,
0.1,-0.7,0.36,-0.62,0.62,-0.7,0.22,-0.48,0.5,-0.42,0.78,-0.5,0.08,-0.28,0.35,-0.22,0.66,-0.25,0.9,-0.3,0.18,-0.05,0.46,0.0,0.75,-0.02,0.05,0.15,0.3,0.18,0.58,0.22,0.85,0.2,0.15,0.38,0.42,0.4,0.7,0.42,0.95,0.45,0.25,0.58,0.52,0.62,0.8,0.65,0.1,0.75,0.38,0.8,0.64,0.85,0.9,0.9,0.22,0.98,0.5,1.05,0.75,1.12,0.35,1.25,0.6,1.35,1.05,0.3,1.1,-0.15,0.45,-0.9,0.85,1.5,0.2,1.45];

let lobes2D = [-0.45,-1.4,-0.2,-1.3,-0.62,-1.22,-0.35,-1.12,-0.1,-1.15,-0.55,-0.95,-0.28,-0.9,-0.72,-0.75,-0.42,-0.65,-0.15,-0.7,-0.58,-0.5,-0.3,-0.45,-0.05,-0.55,-0.7,-0.4,-0.45,-0.25,-0.2,-0.3,-0.85,-0.1,-0.6,-0.15,-0.35,-0.12,-0.1,-0.02,-0.48,0.08,-0.7,0.15,-0.25,0.2,-0.4,0.3,-0.6,0.38,-0.15,0.35,-0.3,0.52,-0.5,0.62,-0.2,0.72,-0.38,0.92,
0.25,-0.58,0.5,-0.55,0.72,-0.38,0.15,-0.4,0.42,-0.35,0.6,-0.12,0.85,-0.15,0.25,-0.15,0.35,0.05,0.62,0.08,0.9,0.08,0.1,0.28,0.48,0.28,0.72,0.3,0.28,0.45,0.58,0.48,0.85,0.55,0.15,0.58,0.4,0.65,0.65,0.72,0.3,0.85,0.55,0.92,0.82,0.98,0.45,1.15,0.7,1.25,0.25,1.1];

let cloudD = [-2.8,-0.55,-2.72,0.7,-2.65,-1.25,-2.58,1.1,-2.5,-0.35,-2.42,-2.05,-2.36,0.5,-2.3,1.65,-2.22,-0.9,-2.15,2.3,-2.08,-1.6,-2.02,0.35,-1.95,-2.4,-1.88,1.3,-1.82,-0.6,-1.76,2.7,-1.7,-1.3,-1.64,0.85,-1.58,-2.9,-1.52,1.9,-1.46,-0.75,-1.4,-1.85,-1.34,1.2,-1.28,-0.45,-1.22,2.3,-1.16,-2.2,-1.1,0.6,-1.05,-1.4,-1.0,1.6,-0.95,-2.6,-0.9,0.95,-0.85,-1.85,-0.8,2.5,-0.75,-1.4,-0.7,1.35,-0.65,-2.35,-0.6,1.9,-0.55,-2.0,-0.5,1.45,-0.45,-2.75,-0.4,2.2,-0.35,-1.8,-0.3,1.7,-0.25,-2.4,-0.2,2.95,-0.15,-2.05,-0.1,1.5,-0.05,-3.0,0.0,2.2,0.05,-1.7,0.1,2.7,0.15,-2.3,0.2,1.75,0.25,-1.45,0.3,3.2,0.35,-2.6,0.4,2.0,0.45,-1.6,0.5,2.6,0.55,-2.15,0.6,1.7,0.65,-1.2,0.7,2.35,0.75,-2.8,0.8,1.55,0.85,-1.5,0.9,3.0,0.95,-2.0,1.0,1.3,1.06,-1.05,1.12,2.1,1.18,-2.5,1.24,1.5,1.3,-0.8,1.36,2.6,1.42,-1.7,1.48,0.95,1.54,-2.2,1.6,1.85,1.66,-1.0,1.72,2.35,1.78,-1.5,1.84,1.1,1.9,-0.6,1.96,2.0,2.02,-1.2,2.1,1.45,2.18,-2.1,2.26,2.65,2.34,0.6,2.42,-0.9,2.5,1.8,2.6,-1.4,2.7,1.1,2.8,-0.5,2.9,2.2,3.0,0.8,3.1,-0.7,-1.5,0.3,-1.25,-0.2,-1.0,0.4,1.2,0.45,1.5,-0.3,1.8,0.5,2.1,-0.35,
-1.45,-0.65,-1.35,0.6,-1.2,-0.9,-1.12,0.95,-1.05,-0.5,-0.98,0.7,-0.92,-1.35,-0.86,1.2,-0.8,-0.4,-0.74,1.5,-0.68,-1.55,-0.58,1.25,-0.48,-1.75,-0.38,1.3,-0.28,-1.5,-0.16,1.1,-0.04,-1.2,0.02,0.95,0.06,-1.05,0.14,1.2,0.26,-1.2,0.34,1.5,0.48,-1.25,0.56,1.6,0.68,-1.05,0.72,1.4,0.82,-0.95,0.92,1.25,1.0,-0.6,1.05,0.85,1.15,-0.35,1.22,1.0,1.3,-0.55,1.38,0.75,1.46,-0.6,1.55,1.15,1.62,-0.3,1.7,0.6,-1.6,0.95,-1.7,-0.9,-1.85,0.55,-2.0,-0.5,
-2.0,1.0,-1.9,-1.1,-1.75,0.4,-1.62,-1.65,-1.5,1.35,-1.38,-1.1,-1.25,1.7,-1.15,-1.75,-1.0,-0.85,-0.92,1.95,-0.82,-2.2,-0.7,2.1,-0.55,-2.45,-0.42,1.65,-0.3,-2.1,-0.18,2.4,-0.05,-1.75,0.08,1.6,0.2,-2.0,0.32,2.3,0.45,-1.9,0.58,2.0,0.7,-1.75,0.82,2.6,0.95,-1.35,1.1,1.7,1.25,-1.85,1.4,2.1,1.55,-1.2,1.7,1.55,1.85,-1.9,2.0,2.4,2.15,-0.8,2.3,1.2,2.45,-1.5,2.6,0.5,-2.3,-1.2,-2.55,0.3,2.75,-0.2,2.9,1.4];

let outliersD = [8.05,7.56,8.58,6.55,0.81,6.13,1.72,5.88,1.68,5.59,-2.78,5.76,4.0,5.55,4.62,5.43,3.93,5.2,7.05,5.27,7.17,5.1,0.73,4.59,4.26,4.75,3.71,4.62,3.68,4.42,3.21,4.55,5.04,4.49,4.95,4.1,3.77,3.81,4.2,4.03,4.03,3.49,4.27,3.71,6.94,3.77,-0.21,3.77,2.31,3.77,5.27,2.96,5.86,2.02,9.4,1.98,9.92,2.14,-8.54,2.7,-4.65,2.54,-3.92,2.02,-3.92,1.92,-5.6,1.67,-9.13,1.57,-6.89,1.44,-6.63,1.34,-8.15,1.25,-9.91,2.41,-9.54,1.12,8.93,1.28,9.49,1.25,9.41,0.86,9.88,0.88,6.28,0.86,-3.25,1.41,-2.98,1.28,-3.08,1.57,-3.73,0.86,-5.52,0.75,-6.0,0.9,-7.3,0.8,-8.6,0.7,
-9.67,-0.93,-9.48,-1.28,-9.11,-1.13,-5.98,-1.32,-6.63,-2.56,-5.46,-1.65,-5.13,-2.06,-5.04,-1.87,-4.57,-2.19,-4.48,-2.56,-4.0,-2.06,-5.3,-3.4,-4.44,-5.08,-2.89,-4.01,-1.48,-4.01,-0.09,-3.68,-0.73,-5.93,0.03,-6.04,1.53,-3.29,1.7,-3.42,1.87,-3.07,0.86,-3.07,-2.75,-2.88,-2.3,-2.26,-2.55,-1.2,4.56,-1.26,5.25,-1.74,5.43,-1.93,5.73,-1.0,6.12,-0.86,8.51,-1.15,8.43,-0.83,9.32,-0.64,9.67,-0.83,3.73,-0.96,3.94,-1.22,3.51,-0.7,3.42,-1.28];

let streakD = [4.31,2.55,4.3,2.35,4.31,2.1,4.32,1.88,4.31,1.65,4.3,1.42,4.31,1.2,4.32,1.0,4.31,0.8,4.3,0.6,4.31,0.42,4.31,-0.3,4.3,-0.48,4.31,-0.66,4.32,-0.85,4.31,-1.05,4.3,-1.25,4.31,-1.45,4.32,-1.65,4.31,-1.85,4.31,-2.13];

let svg = d3.select('#fig');

function pairs(a) {
    let p = [];
    for (let i = 0; i + 1 < a.length; i += 2) p.push([a[i], a[i + 1]]);
    return p;
}

function draw_venn(x0, y0, id, names, counts, total) {
    let g = svg.append('g').attr('transform', `translate(${x0},${y0})`);
    let cx = [456, 843], cy = 516, r = 357;

    g.append('clipPath').attr('id', 'clip' + id)
        .append('circle').attr('cx', cx[0]).attr('cy', cy).attr('r', r);

    g.append('circle').attr('cx', cx[0]).attr('cy', cy).attr('r', r).attr('fill', '#f8c8c1');
    g.append('circle').attr('cx', cx[1]).attr('cy', cy).attr('r', r).attr('fill', '#7edfe7');
    g.append('circle').attr('cx', cx[1]).attr('cy', cy).attr('r', r)
        .attr('fill', '#bab8b3').attr('clip-path', `url(#clip${id})`);

    g.append('rect')
        .attr('x', 0).attr('y', 0)
        .attr('width', 1296).attr('height', 1023)
        .attr('fill', 'none')
        .attr('stroke', '#a30f14')
        .attr('stroke-width', 5);

    let serif = "'Liberation Serif', 'Times New Roman', serif";
    g.selectAll('text.name')
        .data(names)
        .enter()
        .append('text')
        .attr('class', 'name')
        .attr('x', (d, i) => i === 0 ? 38 : 989)
        .attr('y', 157)
        .attr('font-family', serif)
        .attr('font-size', 66)
        .attr('fill', '#4a4a4a')
        .text(d => d);

    g.selectAll('text.count')
        .data(counts)
        .enter()
        .append('text')
        .attr('class', 'count')
        .attr('x', (d, i) => [274, 605, 949][i])
        .attr('y', 543)
        .attr('font-family', serif)
        .attr('font-size', 86)
        .attr('fill', '#464646')
        .text(d => d);

    g.append('text')
        .attr('x', 1267)
        .attr('y', 1002)
        .attr('text-anchor', 'end')
        .attr('font-family', serif)
        .attr('font-size', 84)
        .attr('fill', '#464646')
        .text(total);
}

function draw_scatter(x0, x1, y0, y1, layers, rho, rhoDx) {
    let x = d3.scaleLinear().domain([-10, 10]).range([x0, x1]);
    let y = d3.scaleLinear().domain([-10, 10]).range([y1, y0]);

    let dots = svg.append('g').attr('fill', '#0000ff');
    layers.forEach(arr => {
        dots.append('g')
            .selectAll('circle')
            .data(pairs(arr))
            .enter()
            .append('circle')
            .attr('cx', d => x(d[0]))
            .attr('cy', d => y(d[1]))
            .attr('r', 2.5);
    });

    let sans = "'Liberation Sans', Arial, sans-serif";
    let serif = "'Liberation Serif', 'Times New Roman', serif";

    // minor ticks
    svg.append('g')
        .attr('transform', `translate(0,${y1})`)
        .call(d3.axisBottom(x).tickValues(minorTicks).tickSize(6).tickFormat(''))
        .call(a => a.select('.domain').remove())
        .selectAll('line').attr('stroke-width', 9).attr('stroke-linecap', 'round');
    svg.append('g')
        .attr('transform', `translate(${x0},0)`)
        .call(d3.axisLeft(y).tickValues(minorTicks).tickSize(6).tickFormat(''))
        .call(a => a.select('.domain').remove())
        .selectAll('line').attr('stroke-width', 9).attr('stroke-linecap', 'round');

    let gx = svg.append('g')
        .attr('transform', `translate(0,${y1})`)
        .call(d3.axisBottom(x).tickValues(majorTicks).tickSize(11).tickSizeOuter(0).tickFormat(d => String(d)))
        .attr('font-family', sans)
        .attr('font-size', 61)
        .attr('font-weight', 'bold');
    gx.select('.domain').attr('stroke-width', 10).attr('stroke-linecap', 'square');
    gx.selectAll('.tick line').attr('stroke-width', 9).attr('stroke-linecap', 'round');
    gx.selectAll('.tick text').attr('y', 67).attr('dy', 0).attr('fill', '#000');

    let gy = svg.append('g')
        .attr('transform', `translate(${x0},0)`)
        .call(d3.axisLeft(y).tickValues(majorTicks).tickSize(11).tickSizeOuter(0).tickFormat(d => String(d)))
        .attr('font-family', sans)
        .attr('font-size', 61)
        .attr('font-weight', 'bold');
    gy.select('.domain').attr('stroke-width', 10).attr('stroke-linecap', 'square');
    gy.selectAll('.tick line').attr('stroke-width', 9).attr('stroke-linecap', 'round');
    gy.selectAll('.tick text').attr('x', -16).attr('dy', '0.36em').attr('fill', '#000');

    svg.append('text')
        .attr('x', (x0 + x1) / 2)
        .attr('y', y1 + 151)
        .attr('text-anchor', 'middle')
        .attr('font-family', serif)
        .attr('font-weight', 'bold')
        .attr('font-size', 70)
        .text('Pooled LFC');

    svg.append('text')
        .attr('transform', `translate(${x0 - 120},${(y0 + y1) / 2 - 21}) rotate(-90)`)
        .attr('text-anchor', 'middle')
        .attr('font-family', serif)
        .attr('font-weight', 'bold')
        .attr('font-size', 69)
        .text('Individual samples LFC');

    svg.append('text')
        .attr('x', x0 + rhoDx)
        .attr('y', y0 + 46)
        .attr('font-family', serif)
        .attr('font-size', 40)
        .text('Spearman Rho = ' + rho);
}

function draw_letters() {
    let letters = [['A', 31, 104], ['B', 1614, 104], ['C', 31, 1190], ['D', 1614, 1190]];
    svg.selectAll('text.letter')
        .data(letters)
        .enter()
        .append('text')
        .attr('class', 'letter')
        .attr('x', d => d[1])
        .attr('y', d => d[2])
        .attr('font-family', "'Liberation Serif', 'Times New Roman', serif")
        .attr('font-weight', 'bold')
        .attr('font-size', 44)
        .text(d => d[0]);
}

draw_venn(192, 73, 'A', vennNamesA, vennCountsA, vennTotalA);
draw_venn(192, 1156, 'C', vennNamesC, vennCountsC, vennTotalC);
draw_scatter(1896, 3166, 119, 966, [bandB, band2B, spreadB, cloudB, lobesB, lobes2B, outliersB, streakB], rhoB, 16);
draw_scatter(1903, 3163, 1218, 2064, [bandD, band2D, spreadD, cloudD, lobesD, lobes2D, outliersD, streakD], rhoD, 22);
draw_letters();
</script>
</body>
</html>
